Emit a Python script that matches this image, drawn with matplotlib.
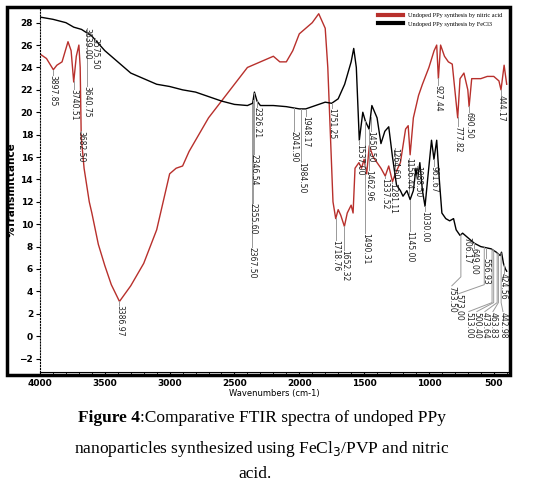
import numpy as np
import matplotlib
matplotlib.use("Agg")
import matplotlib.pyplot as plt
from matplotlib.patches import Rectangle

red_x = [4000,3950,3897,3870,3830,3784,3760,3740,3720,3700,3690,3682,3660,3640,3620,3600,3550,3500,3450,3387,3300,3200,3100,3000,2950,2900,2850,2800,2700,2600,2500,2400,2300,2200,2150,2100,2050,2000,1900,1850,1800,1780,1760,1740,1719,1700,1680,1652,1630,1600,1585,1570,1540,1520,1500,1480,1460,1430,1400,1370,1337,1310,1281,1260,1220,1180,1160,1145,1120,1080,1050,1000,960,940,927,910,880,850,820,800,778,760,730,700,690,670,600,550,500,460,444,420,400]
red_y = [25.2,24.8,23.8,24.2,24.5,26.3,25.5,22.7,25.0,26.0,24.0,17.8,15.0,13.5,12.0,11.0,8.2,6.3,4.6,3.1,4.5,6.5,9.5,14.5,15.0,15.2,16.5,17.5,19.5,21.0,22.5,24.0,24.5,25.0,24.5,24.5,25.5,27.0,28.0,28.8,27.5,24.0,18.0,12.0,10.5,11.3,10.8,9.8,11.0,11.7,11.0,15.0,15.5,15.0,15.8,14.5,17.0,16.0,15.5,15.0,14.3,15.2,13.8,14.5,15.5,18.5,18.8,16.2,19.5,21.5,22.5,24.0,25.5,26.0,23.0,26.0,25.0,24.5,24.3,22.0,19.5,23.0,23.5,22.0,20.5,23.0,23.0,23.2,23.2,22.8,22.0,24.2,22.5]
blk_x = [4000,3900,3800,3740,3680,3600,3500,3400,3300,3200,3100,3000,2900,2800,2700,2600,2500,2400,2360,2346,2326,2300,2200,2100,2000,1950,1900,1800,1750,1700,1650,1600,1580,1560,1537,1510,1490,1462,1440,1400,1370,1340,1310,1281,1250,1220,1200,1170,1145,1120,1100,1088,1070,1050,1030,1010,980,961,940,920,900,870,840,810,790,760,740,720,700,650,600,560,520,480,450,440,425,410,400]
blk_y = [28.5,28.3,28.0,27.6,27.4,26.8,25.5,24.5,23.5,23.0,22.5,22.3,22.0,21.8,21.4,21.0,20.7,20.6,20.8,21.8,21.0,20.6,20.6,20.5,20.3,20.3,20.5,20.9,20.8,21.2,22.5,24.5,25.7,24.0,17.5,20.0,19.2,18.5,20.6,19.5,17.2,18.3,18.7,16.0,13.5,13.0,12.5,13.0,12.2,13.0,15.0,14.0,15.5,13.0,11.6,14.0,17.5,15.8,17.5,14.0,11.0,10.5,10.3,10.5,9.5,9.0,9.2,9.0,8.8,8.3,8.0,7.9,7.8,7.5,7.2,7.5,6.5,6.0,5.8]

peaks = [(3897.85,"3897.85",23.3,'r'),(3740.51,"3740.51",22.1,'r'),(3682.50,"3682.50",18.3,'r'),
         (3640.75,"3640.75",22.3,'k'),(3639.00,"3639.00",27.5,'k'),(3575.50,"3575.50",26.6,'k'),
         (3386.97,"3386.97",2.8,'r'),(2367.50,"2367.50",8.0,'k'),(2355.60,"2355.60",11.9,'k'),
         (2346.54,"2346.54",16.3,'k'),(2326.21,"2326.21",20.5,'k'),(2041.90,"2041.90",18.3,'k'),
         (1984.50,"1984.50",15.6,'k'),(1948.17,"1948.17",19.7,'k'),(1751.25,"1751.25",20.4,'k'),
         (1718.76,"1718.76",8.6,'r'),(1652.32,"1652.32",7.7,'r'),(1537.00,"1537.00",17.2,'k'),
         (1490.31,"1490.31",9.2,'k'),(1462.96,"1462.96",14.8,'k'),(1450.50,"1450.50",18.3,'k'),
         (1337.52,"1337.52",14.1,'r'),(1281.11,"1281.11",13.7,'r'),(1264.60,"1264.60",16.8,'k'),
         (1156.44,"1156.44",15.9,'k'),(1145.00,"1145.00",9.4,'k'),(1088.50,"1088.50",15.2,'k'),
         (1030.00,"1030.00",11.2,'k'),(961.67,"961.67",15.2,'k'),(927.44,"927.44",22.4,'r'),
         (777.82,"777.82",18.8,'r'),(690.50,"690.50",20.0,'r'),(444.17,"444.17",21.5,'r'),
         (706.17,"706.17",8.9,'k'),(649.00,"649.00",7.9,'k'),(556.93,"556.93",7.0,'k'),
         (424.56,"424.56",5.6,'k')]
cluster = [(753.50,"753.50",823,4.5),(573.00,"573.00",769,3.8),(513.00,"513.00",692,2.2),
           (500.40,"500.40",630,2.2),(473.64,"473.64",568,2.2),(463.83,"463.83",506,2.2),
           (442.98,"442.98",429,2.2)]

fig = plt.figure(figsize=(5.51,4.95), dpi=100)
fig.patches.append(Rectangle((7/551, 120/495), 503/551, 368/495, transform=fig.transFigure,
                             fill=False, lw=2.5, ec='black'))
ax = fig.add_axes([40/551, 123/495, 468/551, 365/495])
ax.plot(red_x, red_y, color='#b8302c', lw=1.0, label='Undoped PPy synthesis by nitric acid')
ax.plot(blk_x, blk_y, color='black', lw=1.0, label='Undoped PPy synthesis by FeCl3')
rx = np.array(red_x[::-1]); ry = np.array(red_y[::-1])
bx = np.array(blk_x[::-1]); by = np.array(blk_y[::-1])
tk = dict(rotation=-90, fontsize=5.5, ha='center', va='top', color='#222')
for p, t, yt, c in peaks:
    yc = np.interp(p, rx, ry) if c == 'r' else np.interp(p, bx, by)
    ax.plot([p, p], [yc, yt], color='#999', lw=0.7)
    ax.text(p, yt, t, **tk)
for p, t, lx, yt in cluster:
    yc = np.interp(p, bx, by)
    ax.plot([p, p, lx], [yc, yt + 0.8, yt], color='#999', lw=0.7)
    ax.text(lx, yt, t, **tk)
ax.set_xlim(4000, 390)
ax.set_ylim(-3.2, 29.4)
ax.set_yticks(range(-2, 29, 2))
ax.set_xticks(range(4000, 499, -500))
ax.set_xticks(range(4000, 399, -100), minor=True)
ax.tick_params(labelsize=6.5, length=3, width=0.8, pad=2)
for l in ax.get_xticklabels() + ax.get_yticklabels():
    l.set_fontweight('bold')
for s in ['top', 'right']:
    ax.spines[s].set_visible(False)
ax.spines['left'].set_linestyle(':')
ax.set_xlabel('Wavenumbers (cm-1)', fontsize=6, labelpad=1)
ax.set_ylabel('%Transmittance', fontsize=7.5, fontweight='bold', labelpad=2)
leg = ax.legend(loc='upper right', frameon=False, handlelength=4,
                prop={'family': 'Liberation Serif', 'size': 4.5})
for h in leg.get_lines():
    h.set_linewidth(3)

serif = 'Liberation Serif'
fig.canvas.draw()
r = fig.canvas.get_renderer()
t1 = fig.text(0, 1 - 418/495, 'Figure 4', fontsize=12.5, family=serif, fontweight='bold', va='center')
t2 = fig.text(0, 1 - 418/495, ':Comparative FTIR spectra of undoped PPy', fontsize=12.5, family=serif, va='center')
w1 = t1.get_window_extent(r).width; w2 = t2.get_window_extent(r).width
x0 = (262 - (w1 + w2) / 2) / 551
t1.set_x(x0); t2.set_x(x0 + w1 / 551)
fig.text(262/551, 1 - 449/495, 'nanoparticles synthesized using FeCl$_3$/PVP and nitric',
         ha='center', va='center', fontsize=12.5, family=serif)
fig.text(255/551, 1 - 474/495, 'acid.', ha='center', va='center', fontsize=12.5, family=serif)
fig.savefig('out.png', dpi=100)
